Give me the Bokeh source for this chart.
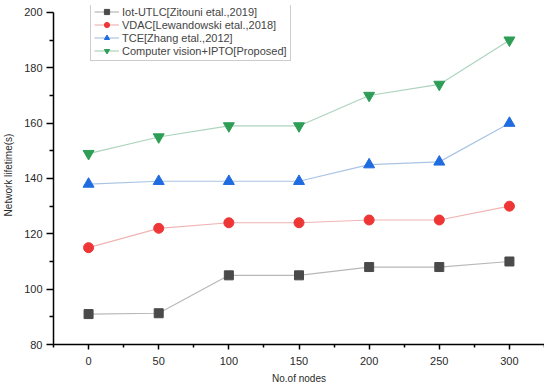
from bokeh.plotting import figure
from bokeh.models import Range1d, FixedTicker, Legend, LegendItem
from bokeh.embed import file_html
from bokeh.resources import INLINE

nodes = [0, 50, 100, 150, 200, 250, 300]
iot_utlc = [91, 91.3, 105, 105, 108, 108, 110]
vdac = [115, 122, 124, 124, 125, 125, 130]
tce = [138, 139, 139, 139, 145, 146, 160]
proposed = [149, 155, 159, 159, 170, 174, 190]

labels = ["Iot-UTLC[Zitouni etal.,2019]", "VDAC[Lewandowski etal.,2018]",
          "TCE[Zhang etal.,2012]", "Computer vision+IPTO[Proposed]"]
x_ticks = [0, 50, 100, 150, 200, 250, 300]
y_ticks = [80, 100, 120, 140, 160, 180, 200]

p = figure(frame_width=491, frame_height=339, output_backend="svg", toolbar_location=None,
           x_range=Range1d(-25, 325), y_range=Range1d(80, 202.53),
           min_border_left=45, min_border_right=0, min_border_top=5, min_border_bottom=34)
p.outline_line_color = None
p.xgrid.visible = False
p.ygrid.visible = False

items = []
series = [
    (iot_utlc, "square", "#4a4a4a", "#b8b8b8", 9),
    (vdac, "circle", "#ee3636", "#f0b4b4", 10),
    (tce, "triangle", "#1f6be0", "#a9c4e4", 11),
    (proposed, "inverted_triangle", "#2e9e57", "#acd4bd", 11),
]
for (vals, marker, mc, lc, sz), lab in zip(series, labels):
    l = p.line(nodes, vals, line_color=lc, line_width=1.2)
    s = p.scatter(nodes, vals, marker=marker, size=sz, fill_color=mc, line_color=mc)
    items.append(LegendItem(label=lab, renderers=[l, s]))

leg = Legend(items=items, location=(37, 283), label_text_font="Liberation Sans",
             label_text_font_size="11px", label_height=13, glyph_height=13, glyph_width=25,
             label_standoff=3, spacing=0, padding=3, margin=0,
             border_line_color="#9a9a9a", border_line_width=1,
             background_fill_color="white", background_fill_alpha=1)
p.add_layout(leg, "center")

for ax in (p.xaxis, p.yaxis):
    ax.axis_line_width = 1.5
    ax.axis_line_color = "black"
    ax.major_tick_line_width = 1.5
    ax.minor_tick_line_width = 1.5
    ax.major_tick_in = 0
    ax.minor_tick_in = 0
    ax.major_label_text_font = "Liberation Sans"
    ax.major_label_text_font_size = "11px"
    ax.major_label_text_color = "#2a2a2a"
    ax.axis_label_text_font = "Liberation Sans"
    ax.axis_label_text_font_size = "10px"
    ax.axis_label_text_font_style = "normal"
    ax.axis_label_text_color = "#2a2a2a"

p.xaxis.major_tick_out = 5
p.xaxis.minor_tick_out = 3
p.yaxis.major_tick_out = 7
p.yaxis.minor_tick_out = 4

p.yaxis.bounds = (80, 200)
p.xaxis.ticker = FixedTicker(ticks=x_ticks, minor_ticks=[-25, 25, 75, 125, 175, 225, 275, 325])
p.yaxis.ticker = FixedTicker(ticks=y_ticks, minor_ticks=[90, 110, 130, 150, 170, 190])
p.xaxis.axis_label = "No.of nodes"
p.yaxis.axis_label = "Network lifetime(s)"
p.xaxis.major_label_standoff = 7
p.yaxis.major_label_standoff = 4
p.xaxis.axis_label_standoff = 5
p.yaxis.axis_label_standoff = 7

open("out.html", "w").write(file_html(p, INLINE))
